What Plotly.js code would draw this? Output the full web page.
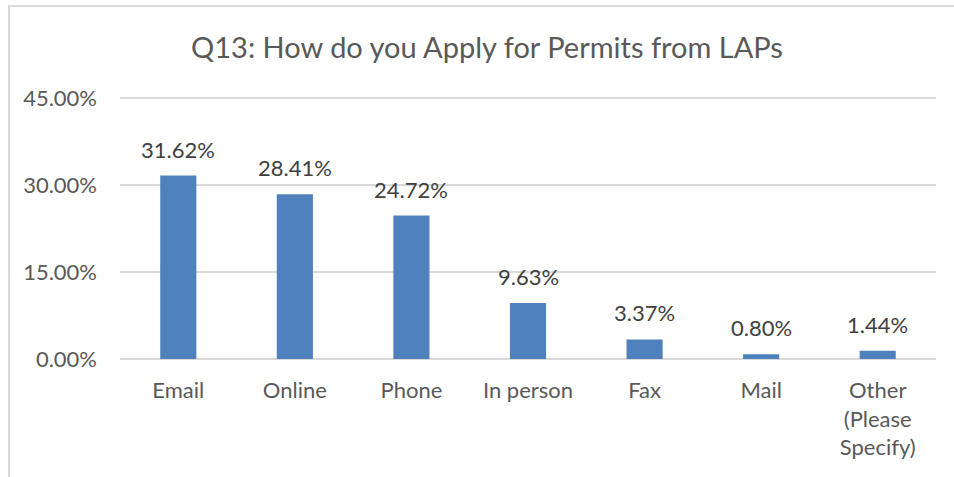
<!DOCTYPE html>
<html><head><meta charset="utf-8">
<script src="https://cdn.plot.ly/plotly-3.0.1.min.js"></script>
<style>
html,body{margin:0;padding:0;background:#fff;width:954px;height:477px;overflow:hidden;}
#frame{position:absolute;left:8px;top:5px;width:946px;height:472px;border-left:2px solid #d9d9d9;border-top:2px solid #d9d9d9;box-sizing:border-box;}
#chart{position:absolute;left:0;top:0;width:954px;height:477px;}
</style></head>
<body>
<div id="frame"></div>
<div id="chart"></div>
<script>
const categories = ["Email", "Online", "Phone", "In person", "Fax", "Mail", "Other<br>(Please<br>Specify)"];
const values = [31.62, 28.41, 24.72, 9.63, 3.37, 0.80, 1.44];
const labels = ["31.62%", "28.41%", "24.72%", "9.63%", "3.37%", "0.80%", "1.44%"];
const tickVals = [0, 15, 30, 45];
const tickText = ["0.00%", "15.00%", "30.00%", "45.00%"];
const titleText = "Q13: How do you Apply for Permits from LAPs";

const FONT = "Lato, 'Open Sans', sans-serif";
const trace = {
  type: "bar", x: categories, y: values,
  marker: {color: "#4f81bd"},
  hoverinfo: "none"
};
const annotations = categories.map((c, i) => ({
  x: c, y: values[i], text: labels[i], showarrow: false,
  yanchor: "bottom", yshift: 11,
  font: {family: FONT, size: 22, color: "#404040"}
}));
const layout = {
  width: 954, height: 477,
  paper_bgcolor: "rgba(0,0,0,0)", plot_bgcolor: "rgba(0,0,0,0)",
  margin: {l: 120, r: 18, t: 95, b: 118},
  title: {text: titleText, x: 487/954, xref: "container", xanchor: "center",
          y: 1 - 48/477, yref: "container", yanchor: "middle",
          font: {family: FONT, size: 29, color: "#595959"}},
  bargap: 0.69,
  showlegend: false,
  xaxis: {type: "category", showgrid: false, zeroline: false, showline: false,
          ticks: "", ticklabelstandoff: 16,
          tickfont: {family: FONT, size: 22, color: "#595959"}, fixedrange: true},
  yaxis: {range: [0, 45.5], tickvals: tickVals, ticktext: tickText,
          showgrid: true, gridcolor: "#d9d9d9", gridwidth: 1.5,
          zeroline: true, zerolinecolor: "#d9d9d9", zerolinewidth: 1.5,
          showline: false, ticks: "", ticklabelstandoff: 22,
          tickfont: {family: FONT, size: 22, color: "#595959"}, fixedrange: true},
  annotations: annotations
};
Plotly.newPlot("chart", [trace], layout, {displayModeBar: false, staticPlot: true});
</script>
</body></html>
